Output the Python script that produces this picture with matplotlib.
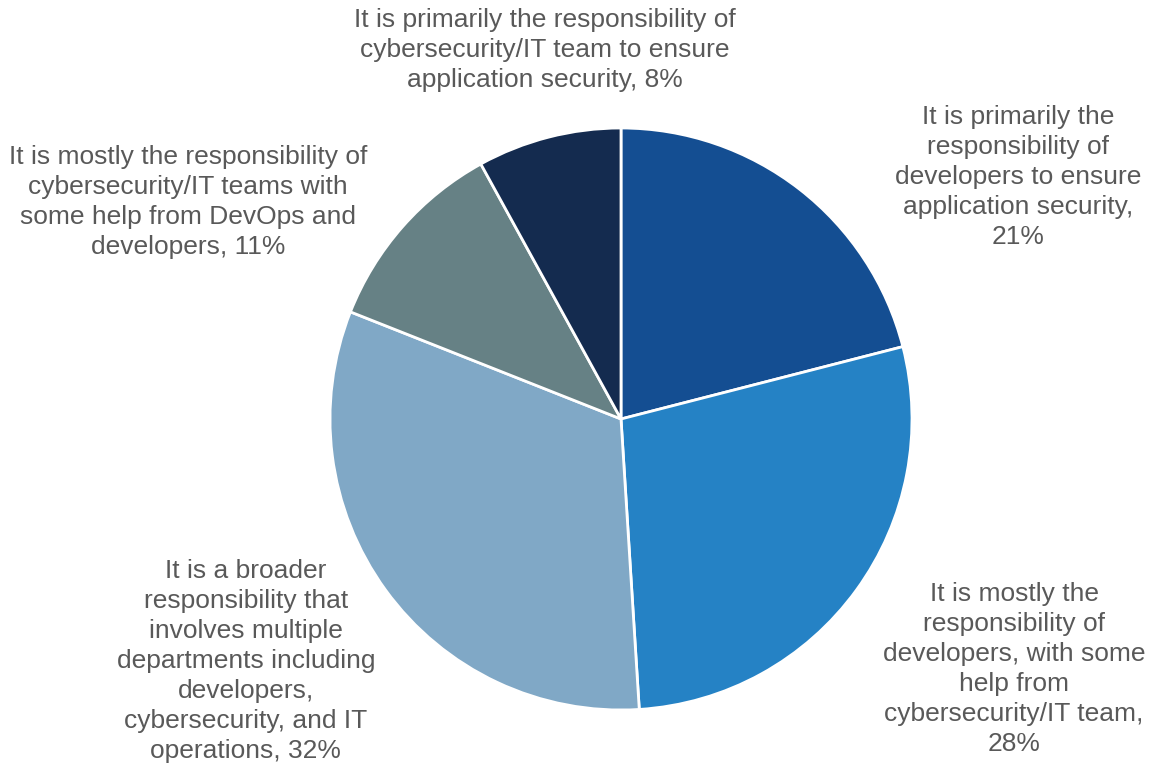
import matplotlib.pyplot as plt

# who owns application security - share of respondents
labels = [
    "It is primarily the\nresponsibility of\ndevelopers to ensure\napplication security,",
    "It is mostly the\nresponsibility of\ndevelopers, with some\nhelp from\ncybersecurity/IT team,",
    "It is a broader\nresponsibility that\ninvolves multiple\ndepartments including\ndevelopers,\ncybersecurity, and IT\noperations,",
    "It is mostly the responsibility of\ncybersecurity/IT teams with\nsome help from DevOps and\ndevelopers,",
    "It is primarily the responsibility of\ncybersecurity/IT team to ensure\napplication security,",
]
shares = [21, 28, 32, 11, 8]
colors = ["#144E92", "#2582C5", "#80A8C6", "#668185", "#142B4F"]

# label anchor points in pie units (radius 1) and what sits between text and value
label_pos = [(1.364, 0.832), (1.351, -0.859), (-1.289, -0.832), (-1.488, 0.746), (-0.261, 1.268)]
joins = ["\n", "\n", " ", " ", " "]

plt.rcParams['font.family'] = ['Liberation Sans', 'DejaVu Sans']

fig = plt.figure(figsize=(11.51, 7.67), dpi=100)
cx, cy, r = 621, 419, 291
W, H = 1151, 767
ax = fig.add_axes([(cx - r) / W, (H - cy - r) / H, 2 * r / W, 2 * r / H])

ax.pie(shares, colors=colors, startangle=90, counterclock=False, radius=1,
       wedgeprops=dict(edgecolor='white', linewidth=2))
ax.set_xlim(-1, 1)
ax.set_ylim(-1, 1)
ax.set_aspect('auto')
ax.axis('off')

for lab, val, (x, y), j in zip(labels, shares, label_pos, joins):
    ax.text(x, y, f"{lab}{j}{val}%", ha='center', va='center', multialignment='center',
            fontsize=19, color='#595959', linespacing=1.32)

fig.savefig('out.png', dpi=100)
